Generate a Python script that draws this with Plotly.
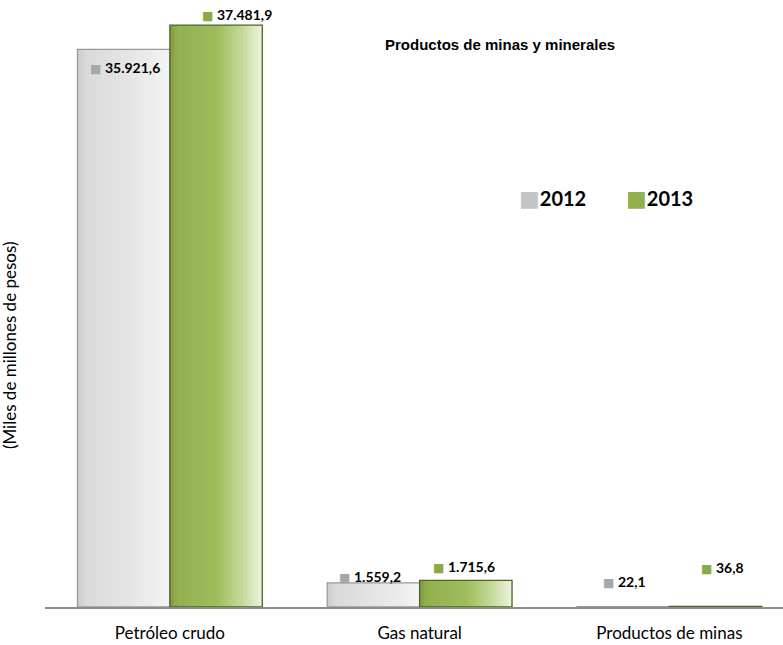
import plotly.graph_objects as go

categories = ["Petróleo crudo", "Gas natural", "Productos de minas"]
series_names = ["2012", "2013"]
values_2012 = [35921.6, 1559.2, 22.1]
values_2013 = [37481.9, 1715.6, 36.8]

# label shifts (px) for data labels, per series and category
shifts_2012 = [(-45, -18), (-50, 6), (-45, 25)]
shifts_2013 = [(67, 11), (44, 14), (53, 39)]


def fmt(v):
    s = f"{v:,.1f}"
    return s.replace(",", "X").replace(".", ",").replace("X", ".")


def hex_to_rgb(h):
    h = h.lstrip("#")
    return tuple(int(h[i:i + 2], 16) for i in (0, 2, 4))


def interp(stops, t):
    for (t0, c0), (t1, c1) in zip(stops[:-1], stops[1:]):
        if t0 <= t <= t1:
            f = 0 if t1 == t0 else (t - t0) / (t1 - t0)
            a, b = hex_to_rgb(c0), hex_to_rgb(c1)
            r = [round(a[k] + (b[k] - a[k]) * f) for k in range(3)]
            return f"rgb({r[0]},{r[1]},{r[2]})"
    return stops[-1][1]


gray_stops = [(0, "#cccccc"), (0.1, "#dadada"), (0.6, "#e6e6e6"), (1, "#f4f4f4")]
green_stops = [(0, "#7e9c3e"), (0.08, "#93b04f"), (0.5, "#9ebd5b"), (0.78, "#c4d99a"), (1, "#eef5e0")]

BW = 0.37  # bar width in category units
N = 24
fig = go.Figure()

for vals, start, stops, edge in [
    (values_2012, -BW, gray_stops, "#9a9a9a"),
    (values_2013, 0.0, green_stops, "#4f6228"),
]:
    s = BW / N
    for i in range(N):
        w = s * 1.6 if i < N - 1 else s
        fig.add_trace(go.Bar(
            x=categories, y=vals, width=w, offset=start + i * s,
            marker=dict(color=interp(stops, (i + 0.5) / N), line=dict(width=0)),
            showlegend=False, hoverinfo="skip",
        ))
    fig.add_trace(go.Bar(
        x=categories, y=vals, width=BW, offset=start,
        marker=dict(color="rgba(0,0,0,0)", line=dict(color=edge, width=1.3)),
        showlegend=False, hoverinfo="skip",
    ))

annotations = []
for vals, shifts, icol in [(values_2012, shifts_2012, "#a8a8a8"), (values_2013, shifts_2013, "#8aaa46")]:
    for c, v, (dx, dy) in zip(categories, vals, shifts):
        annotations.append(dict(
            x=c, y=v, xref="x", yref="y", xshift=dx, yshift=dy,
            xanchor="center", yanchor="middle",
            text=f'<span style="color:{icol};font-family:DejaVu Sans;font-size:12px">■</span> <b>{fmt(v)}</b>',
            showarrow=False, font=dict(family="Lato", size=14, color="#000000"),
        ))

# legend (custom)
for name, icol, xp in [("2012", "#c4c4c4", 0.6396), ("2013", "#93b04f", 0.7846)]:
    annotations.append(dict(
        x=xp, y=0.6786, xref="paper", yref="paper", xanchor="left", yanchor="middle",
        text=f'<span style="color:{icol};font-family:DejaVu Sans;font-size:22px">■</span><b>{name}</b>',
        showarrow=False, font=dict(family="Lato", size=20, color="#000000"),
    ))

annotations.append(dict(
    x=0.6165, y=0.935, xref="paper", yref="paper", xanchor="center", yanchor="middle",
    text="<b>Productos de minas y minerales</b>", showarrow=False,
    font=dict(family="Liberation Sans", size=15, color="#000000"),
))
annotations.append(dict(
    x=-0.0488, y=0.435, xref="paper", yref="paper", textangle=-90,
    xanchor="center", yanchor="middle",
    text="(Miles de millones de pesos)", showarrow=False,
    font=dict(family="Lato", size=17, color="#000000"),
))

fig.update_layout(
    width=783, height=645,
    margin=dict(l=45, r=0, t=5, b=38),
    paper_bgcolor="white", plot_bgcolor="white",
    barmode="overlay",
    showlegend=False,
    annotations=annotations,
    xaxis=dict(
        type="category", range=[-0.5, 2.455],
        showline=True, linecolor="#8c8c8c", linewidth=1.5,
        ticks="", showgrid=False, zeroline=False, ticklabelstandoff=10,
        tickfont=dict(family="Lato", size=17, color="#000000"),
    ),
    yaxis=dict(
        range=[0, 38780], showticklabels=False, showgrid=False,
        zeroline=False, showline=False, ticks="",
    ),
)

fig.write_html("out.html", config={"displayModeBar": False},
               post_script="document.body.style.margin='0px';")
